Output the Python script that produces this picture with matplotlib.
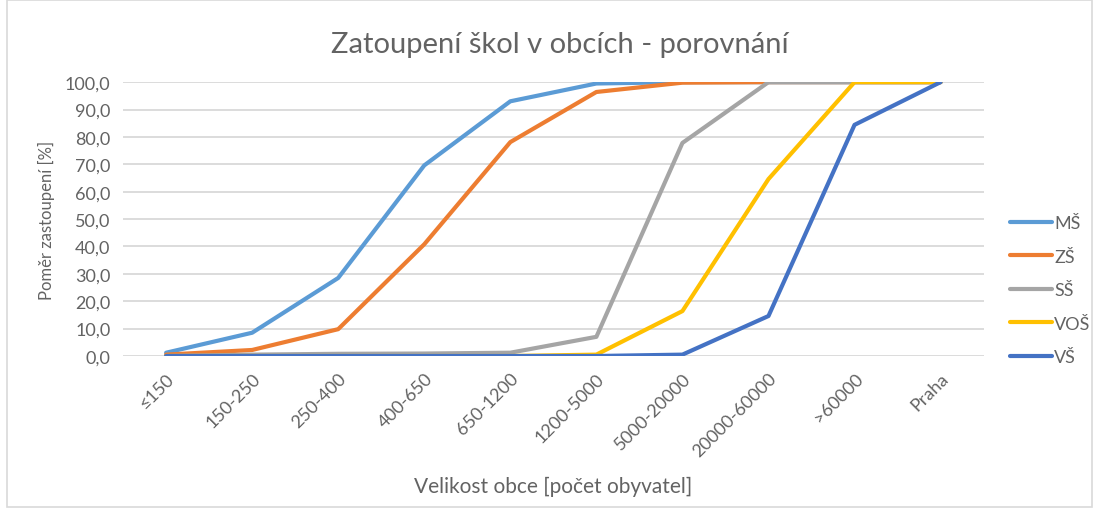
import matplotlib
matplotlib.use("Agg")
from matplotlib import pyplot as plt
from matplotlib.patches import Rectangle

# kategorie velikosti obce
categories = ["≤150", "150-250", "250-400", "400-650", "650-1200", "1200-5000",
              "5000-20000", "20000-60000", ">60000", "Praha"]

ms = [1.2, 8.5, 28.5, 69.6, 93.0, 99.5, 100.0, 100.0, 100.0, 100.0]
zs = [0.5, 2.2, 9.8, 40.8, 78.1, 96.4, 99.8, 100.0, 100.0, 100.0]
ss = [0.0, 0.5, 0.8, 0.9, 1.2, 7.0, 77.8, 100.0, 100.0, 100.0]
vos = [0.0, 0.0, 0.0, 0.0, 0.0, 0.5, 16.4, 64.6, 100.0, 100.0]
vs = [0.0, 0.0, 0.0, 0.0, 0.0, 0.0, 0.5, 14.6, 84.4, 100.0]

series = [("MŠ", ms, "#5B9BD5"), ("ZŠ", zs, "#ED7D31"), ("SŠ", ss, "#A5A5A5"),
          ("VOŠ", vos, "#FFC000"), ("VŠ", vs, "#4472C4")]

plt.rcParams['font.family'] = ['Lato', 'DejaVu Sans']
text_color = '#636363'

fig = plt.figure(figsize=(10.99, 5.10), dpi=100)
ax = fig.add_axes([0.112, 0.30, 0.783, 0.537])

x = list(range(len(categories)))
for name, vals, col in series:
    ax.plot(x, vals, color=col, lw=3, label=name, solid_capstyle='round', solid_joinstyle='round')

ax.set_xlim(-0.5, len(categories) - 0.5)
ax.set_ylim(0, 100)
ax.set_yticks(range(0, 101, 10))
ax.set_yticklabels([f"{v:.1f}".replace(".", ",") for v in range(0, 101, 10)])
ax.set_xticks(x)
ax.set_xticklabels(categories, rotation=45, ha='right', rotation_mode='anchor')
ax.tick_params(length=0, labelsize=13, colors=text_color, pad=9)
ax.tick_params(axis='x', pad=10)
ax.grid(axis='y', color='#D9D9D9', lw=1.3)
ax.set_axisbelow(True)
for s in ax.spines.values():
    s.set_visible(False)

ax.set_xlabel("Velikost obce [počet obyvatel]", fontsize=15, color=text_color, labelpad=12)
ax.set_ylabel("Poměr zastoupení [%]", fontsize=12, color=text_color, labelpad=7)
fig.text(0.509, 0.912, "Zatoupení škol v obcích - porovnání", ha='center', va='center',
         fontsize=21, color=text_color)

leg = ax.legend(loc='center left', bbox_to_anchor=(1.012, 0.24), frameon=False,
                fontsize=13, labelcolor=text_color, handlelength=2.3, handletextpad=0.15,
                labelspacing=0.97)

fig.patches.append(Rectangle((0.006, 0.004), 0.988, 0.994, transform=fig.transFigure,
                             fill=False, edgecolor='#D9D9D9', lw=1.2))

fig.savefig("out.png", dpi=100)
